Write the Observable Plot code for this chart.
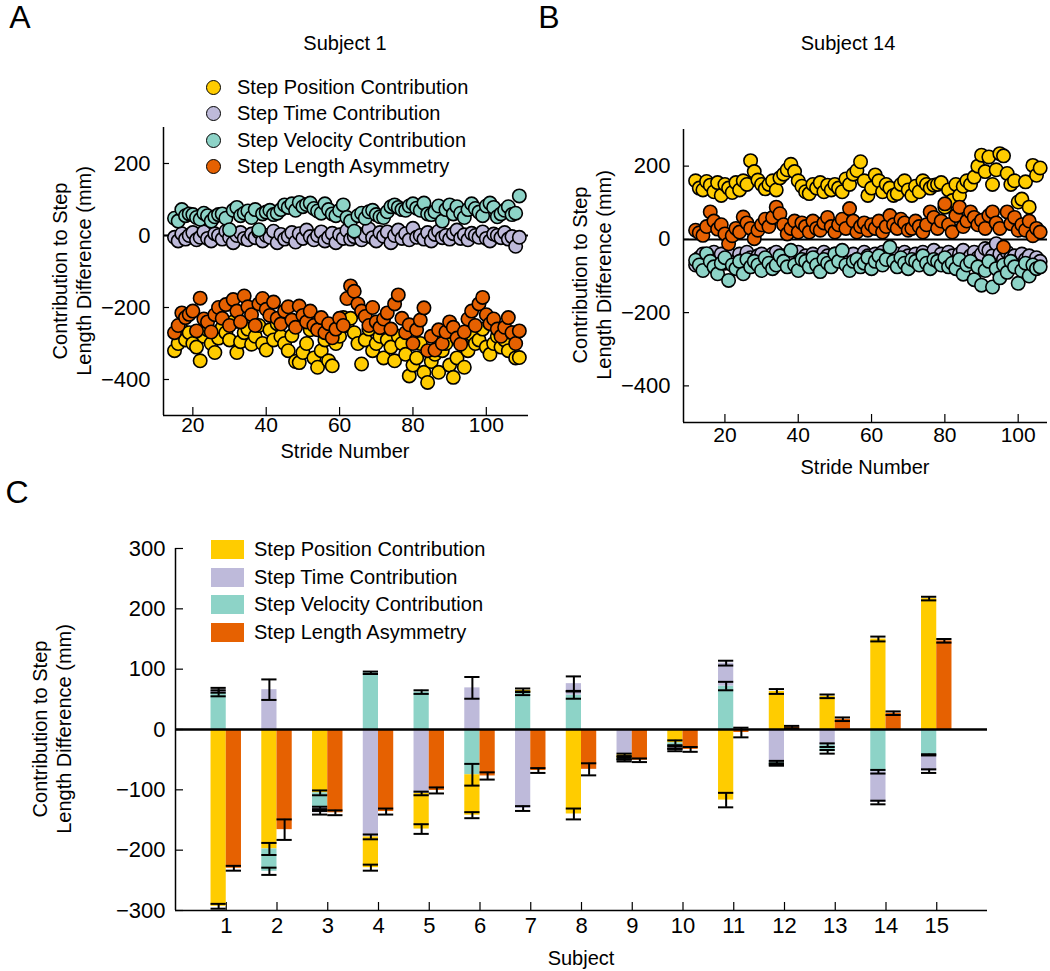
<!DOCTYPE html>
<html><head><meta charset="utf-8">
<script src="https://cdn.jsdelivr.net/npm/d3@7"></script>
<script src="https://cdn.jsdelivr.net/npm/@observablehq/plot@0.6"></script>
<style>
body{margin:0;background:#fff;}
#fig{position:relative;width:1050px;height:971px;font-family:"Liberation Sans",Arial,sans-serif;color:#000;overflow:hidden;background:#fff;}
#fig svg{position:absolute;}
.t{position:absolute;white-space:nowrap;line-height:1;}
.ylab{position:absolute;white-space:nowrap;font-size:20px;line-height:24px;text-align:center;transform:translate(-50%,-50%) rotate(-90deg);}
</style></head><body><div id="fig"></div>
<script>
// ---------- shared ----------
const seriesNames = ["Step Position Contribution","Step Time Contribution","Step Velocity Contribution","Step Length Asymmetry"];
const seriesColors = ["#FFCC00","#BEBADA","#8DD3C7","#E66101"];

// ---------- Panel A: Subject 1 (strides 15..109) ----------
const firstStrideA = 15;
const posA = [-320,-300,-262,-290,-270,-300,-310,-348,-280,-262,
  -300,-325,-285,-256,-270,-290,-240,-325,-295,-270,
  -260,-302,-280,-250,-300,-318,-262,-290,-245,-280,
  -300,-320,-278,-350,-353,-325,-300,-262,-340,-366,
  -320,-290,-348,-362,-300,-280,-228,-250,-230,-270,
  -300,-357,-290,-260,-320,-300,-280,-340,-290,-310,
  -348,-280,-300,-330,-390,-360,-340,-300,-380,-408,
  -350,-330,-380,-320,-300,-360,-394,-340,-300,-366,
  -320,-275,-300,-290,-260,-310,-330,-300,-280,-310,
  -290,-320,-270,-340,-339];
const timeA = [-5,-15,5,-10,0,8,-12,-5,10,-8,
  -15,5,0,-10,12,-5,-20,0,8,-8,
  -12,4,-6,10,-15,0,-5,12,-20,3,
  -10,-2,8,-18,5,-8,15,-3,-12,0,
  10,-15,-5,6,-20,2,-8,14,-10,-3,
  5,-12,0,18,-6,-15,8,-2,10,-20,
  0,15,-8,5,-12,20,-5,0,-10,8,
  -15,3,12,-6,0,-10,5,15,-8,2,
  -12,6,0,-5,10,-8,-15,4,0,-6,
  8,-10,-3,-30,-5];
const velA = [48,40,72,55,60,58,50,45,62,55,
  40,52,58,60,48,16,70,78,55,62,
  68,50,72,16,60,65,70,58,62,72,
  85,78,88,70,92,80,86,90,75,68,
  62,88,72,60,55,70,85,50,40,12,
  55,62,48,66,70,58,52,50,66,80,
  85,78,72,70,82,88,76,70,90,60,
  58,66,82,40,72,85,60,80,62,50,
  72,88,75,65,55,82,90,78,52,60,
  70,80,58,62,110];
const asymA = [-270,-250,-215,-228,-219,-210,-265,-174,-232,-240,
  -268,-220,-200,-230,-192,-250,-178,-210,-240,-168,
  -198,-220,-250,-190,-175,-205,-222,-185,-230,-246,
  -210,-198,-235,-255,-196,-222,-240,-210,-250,-262,
  -228,-270,-245,-284,-260,-230,-250,-175,-140,-155,
  -190,-210,-225,-250,-200,-240,-256,-232,-215,-260,
  -190,-165,-230,-270,-248,-300,-262,-235,-201,-320,
  -280,-318,-262,-300,-268,-240,-255,-285,-302,-268,
  -232,-210,-250,-190,-172,-220,-245,-232,-260,-280,
  -255,-228,-270,-300,-265];

// ---------- Panel B: Subject 14 (strides 12..106) ----------
const firstStrideB = 12;
const posB = [160,140,135,158,148,130,155,120,150,140,
  128,155,135,160,150,215,185,162,150,138,
  150,160,135,168,178,190,205,185,160,145,
  130,125,150,140,155,130,148,135,150,140,
  130,165,150,178,188,212,160,120,140,176,
  160,130,150,140,120,125,150,160,135,120,
  145,130,160,150,140,148,150,155,88,135,
  106,150,120,145,160,150,170,200,230,185,
  225,150,190,234,228,180,150,160,102,110,
  157,88,202,175,195];
const timeB = [-70,-50,-40,-60,-45,-35,-55,-40,-65,-50,
  -45,-60,-40,-55,-35,-50,-65,-45,-40,-55,
  -50,-40,-35,-60,-45,-55,-40,-50,-35,-60,
  -45,-55,-40,-50,-60,-35,-45,-55,-40,-50,
  -35,-60,-45,-40,-55,-50,-35,-45,-60,-40,
  -50,-35,-45,-30,-55,-40,-50,-35,-45,-60,
  -40,-55,-35,-50,-45,-30,-55,-40,-50,-35,
  -45,-60,-40,-30,-55,-45,-35,-50,-40,-25,
  -30,-45,-12,-40,-55,-35,-50,-45,-60,-40,
  -55,-45,-70,-50,-60];
const velB = [-57,-70,-85,-39,-60,-75,-94,-65,-50,-112,
  -70,-80,-60,-94,-55,-75,-60,-70,-85,-50,
  -65,-80,-70,-45,-60,-75,-30,-70,-85,-55,
  -60,-75,-50,-70,-88,-55,-65,-75,-40,-60,
  -30,-70,-85,-60,-55,-75,-65,-50,-80,-60,
  -45,-70,-55,-21,-60,-75,-50,-65,-80,-55,
  -60,-70,-45,-65,-80,-55,-60,-70,-50,-75,
  -65,-80,-55,-95,-70,-60,-110,-75,-125,-85,
  -60,-130,-80,-105,-70,-90,-60,-75,-120,-85,
  -65,-100,-70,-80,-75];
const asymB = [25,18,11,35,75,50,28,40,15,-12,
  10,30,20,61,45,30,2,25,40,55,
  35,60,88,70,40,15,30,50,20,45,
  35,20,50,30,25,45,60,35,20,40,
  55,30,84,50,20,35,45,25,40,30,
  50,20,35,65,40,30,55,45,25,30,
  50,35,20,40,75,60,30,50,97,40,
  20,65,88,35,50,75,60,40,52,30,
  65,75,45,30,-21,75,43,60,25,40,
  25,50,10,30,20];

const strideTicks = [20,40,60,80,100];
const scatterYTicks = [-400,-200,0,200];
const scatterYDomain = [-500,300];
const strideDomainA = [12,111.5];
const strideDomainB = [8.7,108];

// ---------- Panel C: mean contributions per subject ----------
const subjects = [1,2,3,4,5,6,7,8,9,10,11,12,13,14,15];
const posC  = [-293,-198,-105,-51,-59,-67,5,-140,-6,-22,-117,63,55,150,217];
const timeC = [5,66,-8,-178,-106,69,-131,19,-42,-4,38,-55,-26,-51,-27];
const velC  = [60,-37,-25,94,62,-75,60,57,-3,-8,72,-3,-11,-70,-42];
const asymC = [-230,-166,-138,-136,-101,-77,-68,-66,-51,-33,-5,4,17,27,147];
const posErr  = [4,10,4,5,8,5,3,9,2,4,12,4,3,4,3];
const timeErr = [4,17,3,4,3,18,4,12,2,2,4,3,3,3,3];
const velErr  = [5,6,2,2,3,18,3,6,2,2,7,2,3,3,1];
const asymErr = [4,17,4,5,5,6,4,10,3,4,8,2,3,3,3];
const barYTicks = [-300,-200,-100,0,100,200,300];
const barYDomain = [-300,300];
const subjectDomain = [0,16];

// ---------- helpers ----------
const fig = document.getElementById("fig");
const FONT = "'Liberation Sans', Arial, sans-serif";
const fmt = d => d < 0 ? "\u2212" + Math.abs(d) : String(d);
function text(str, x, y, size, anchor = "middle") {
  const el = document.createElement("div");
  el.className = "t";
  el.textContent = str;
  el.style.fontSize = size + "px";
  el.style.left = x + "px";
  el.style.top = y + "px";
  el.style.transform = `translate(${anchor === "middle" ? "-50%" : anchor === "end" ? "-100%" : "0"},-50%)`;
  fig.appendChild(el);
  return el;
}
function ylabel(lines, x, y) {
  const el = document.createElement("div");
  el.className = "ylab";
  el.innerHTML = lines.join("<br>");
  el.style.left = x + "px";
  el.style.top = y + "px";
  fig.appendChild(el);
}
function place(svg, left, top) {
  svg.style.left = left + "px";
  svg.style.top = top + "px";
  fig.appendChild(svg);
}
function scatterRows(first, arrays) {
  const rows = [];
  arrays.forEach((arr, k) => arr.forEach((v, i) => rows.push({stride: first + i, value: v, series: seriesNames[k]})));
  return rows;
}

function scatterPlot(rows, xDomain, o) {
  return Plot.plot({
    width: o.width, height: o.height,
    marginLeft: o.ml, marginRight: o.mr, marginTop: o.mt, marginBottom: o.mb,
    x: {domain: xDomain},
    y: {domain: scatterYDomain},
    color: {domain: seriesNames, range: seriesColors},
    style: {fontFamily: FONT, fontSize: "21px", background: "transparent", color: "#000", overflow: "visible"},
    marks: [
      Plot.ruleY([0], {stroke: "#000", strokeWidth: 2}),
      Plot.dot(rows, {x: "stride", y: "value", fill: "series", r: 6.7, stroke: "#000", strokeWidth: 1.6}),
      Plot.ruleX([xDomain[0]], {stroke: "#000", strokeWidth: 1.5}),
      Plot.ruleY([scatterYDomain[0]], {stroke: "#000", strokeWidth: 1.5}),
      Plot.axisX(strideTicks, {tickSize: -8, tickPadding: o.xpad, tickFormat: fmt, label: null, fontSize: 21, strokeWidth: 1.2}),
      Plot.axisY(scatterYTicks, {tickSize: -6, tickPadding: 19, tickFormat: fmt, label: null, fontSize: 22, strokeWidth: 1.2})
    ]
  });
}

// Panel A
const rowsA = scatterRows(firstStrideA, [posA, timeA, velA, asymA]);
place(scatterPlot(rowsA, strideDomainA, {width: 540, height: 480, ml: 163, mr: 12, mt: 127, mb: 65, xpad: 10}), 0, 0);
// Panel B
const rowsB = scatterRows(firstStrideB, [posB, timeB, velB, asymB]);
place(scatterPlot(rowsB, strideDomainB, {width: 490, height: 480, ml: 123, mr: 3, mt: 129, mb: 58, xpad: 13}), 560, 0);

// Panel C
const segs = [], errs = [];
subjects.forEach((s, i) => {
  const comps = [
    {series: seriesNames[0], v: posC[i], e: posErr[i]},
    {series: seriesNames[1], v: timeC[i], e: timeErr[i]},
    {series: seriesNames[2], v: velC[i], e: velErr[i]}
  ].sort((a, b) => Math.abs(b.v) - Math.abs(a.v));
  let up = 0, down = 0;
  for (const c of comps) {
    const base = c.v >= 0 ? up : down;
    const end = base + c.v;
    if (c.v >= 0) up = end; else down = end;
    segs.push({subject: s, side: 0, y1: base, y2: end, series: c.series});
    errs.push({subject: s, side: 0, lo: end - c.e, hi: end + c.e});
  }
  segs.push({subject: s, side: 1, y1: 0, y2: asymC[i], series: seriesNames[3]});
  errs.push({subject: s, side: 1, lo: asymC[i] - asymErr[i], hi: asymC[i] + asymErr[i]});
});
const barW = 0.3;
const left = d => d.subject - barW + d.side * barW;
const right = d => d.subject + d.side * barW;
const mid = d => d.subject + (d.side - 0.5) * barW;
const plotC = Plot.plot({
  width: 1050, height: 491,
  marginLeft: 175, marginRight: 63, marginTop: 68, marginBottom: 61,
  x: {domain: subjectDomain},
  y: {domain: barYDomain},
  color: {domain: seriesNames, range: seriesColors},
  style: {fontFamily: FONT, fontSize: "22px", background: "transparent", color: "#000", overflow: "visible"},
  marks: [
    Plot.axisX(subjects, {tickSize: -8, tickPadding: 15, tickFormat: fmt, label: null, fontSize: 22, strokeWidth: 1.2}),
    Plot.axisY(barYTicks, {tickSize: -8, tickPadding: 18, tickFormat: fmt, label: null, fontSize: 22, strokeWidth: 1.2}),
    Plot.rectY(segs, {x1: left, x2: right, y1: "y1", y2: "y2", fill: "series"}),
    Plot.ruleY([0], {stroke: "#000", strokeWidth: 2.5}),
    Plot.ruleX(errs, {x: mid, y1: "lo", y2: "hi", stroke: "#000", strokeWidth: 2}),
    Plot.ruleY(errs, {y: "lo", x1: left, x2: right, stroke: "#000", strokeWidth: 2}),
    Plot.ruleY(errs, {y: "hi", x1: left, x2: right, stroke: "#000", strokeWidth: 2}),
    Plot.ruleX([subjectDomain[0]], {stroke: "#000", strokeWidth: 1.5}),
    Plot.ruleY([barYDomain[0]], {stroke: "#000", strokeWidth: 1.5})
  ]
});
place(plotC, 0, 480);

// ---------- text overlays ----------
text("A", 20, 17, 32);
text("B", 549, 17, 32);
text("C", 17, 492, 32);
text("Subject 1", 345, 43, 20);
text("Subject 14", 848, 43, 20);
text("Stride Number", 345, 451, 20);
text("Stride Number", 865, 467, 20);
text("Subject", 581, 958, 20);
ylabel(["Contribution to Step", "Length Difference (mm)"], 72, 271);
ylabel(["Contribution to Step", "Length Difference (mm)"], 592, 275);
ylabel(["Contribution to Step", "Length Difference (mm)"], 52, 729);

// legend A (circles)
const legARows = [87, 113, 140, 166];
seriesNames.forEach((name, k) => {
  const c = document.createElement("div");
  c.style.cssText = `position:absolute;left:${213-7.5}px;top:${legARows[k]-7.5}px;width:13px;height:13px;border:1.2px solid #000;border-radius:50%;background:${seriesColors[k]};`;
  fig.appendChild(c);
  text(name, 237, legARows[k], 20, "start");
});
// legend C (swatches)
const legCRows = [549, 577, 604, 632];
seriesNames.forEach((name, k) => {
  const s = document.createElement("div");
  s.style.cssText = `position:absolute;left:211px;top:${legCRows[k]-9.5}px;width:33px;height:19px;background:${seriesColors[k]};`;
  fig.appendChild(s);
  text(name, 254, legCRows[k], 20, "start");
});
</script></body></html>
